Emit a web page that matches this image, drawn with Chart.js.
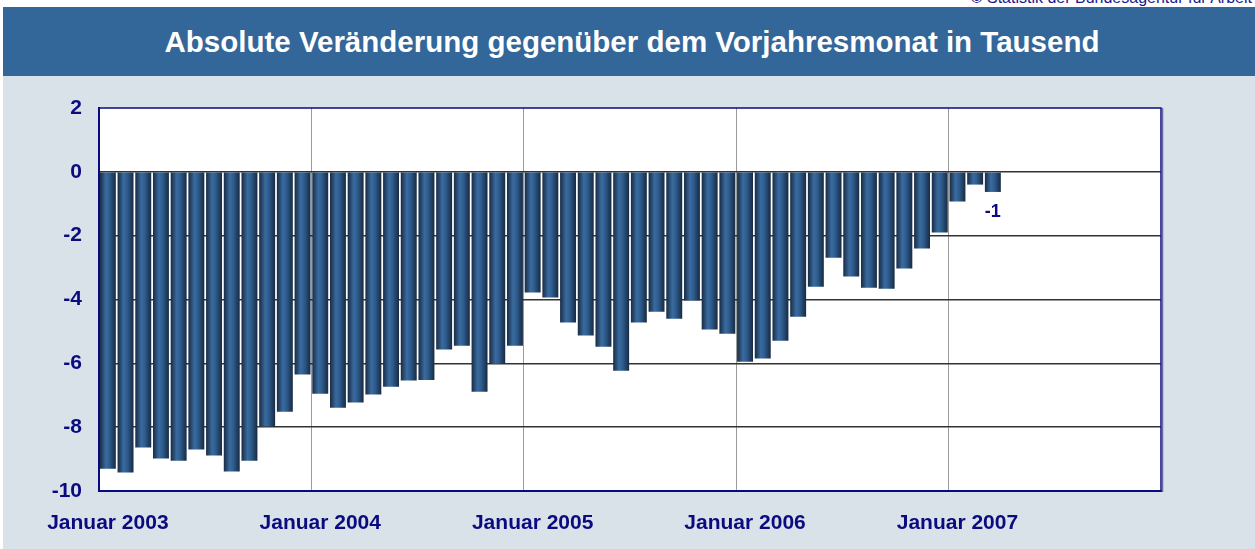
<!DOCTYPE html>
<html>
<head>
<meta charset="utf-8">
<script src="https://cdn.jsdelivr.net/npm/chart.js@4"></script>
<style>
  body { margin: 0; width: 1255px; height: 549px; overflow: hidden; background: #fff; position: relative; font-family: "Liberation Sans", Arial, sans-serif; }
  #source { position: absolute; right: 3px; top: -10px; font-size: 16px; line-height: 16px; color: #1a1a8c; white-space: nowrap; }
  #titleBar { position: absolute; left: 3px; top: 7px; width: 1252px; height: 69px; background: #336699; }
  #titleBar h1 { margin: 0; font-size: 29.5px; line-height: 69px; font-weight: bold; color: #fff; text-align: center; padding-left: 6px; }
  #panel { position: absolute; left: 3px; top: 76px; width: 1252px; height: 473px; background: #d9e1e9; }
  #chartBox { position: absolute; left: 0; top: 76px; width: 1255px; height: 473px; }
</style>
</head>
<body>
<div id="source">© Statistik der Bundesagentur für Arbeit</div>
<div id="titleBar"><h1>Absolute Veränderung gegenüber dem Vorjahresmonat in Tausend</h1></div>
<div id="panel"></div>
<div id="chartBox"><canvas id="veraenderungChart"></canvas></div>
<script>
const years = [2003, 2004, 2005, 2006, 2007];
const monthNames = ["Januar", "Februar", "März", "April", "Mai", "Juni", "Juli",
  "August", "September", "Oktober", "November", "Dezember"];

// 2003 .. März 2007, in Tausend
const values2003 = [-9.30, -9.42, -8.64, -8.98, -9.05, -8.70, -8.89, -9.39, -9.05, -7.98, -7.52, -6.35];
const values2004 = [-6.95, -7.39, -7.23, -6.98, -6.73, -6.54, -6.52, -5.57, -5.45, -6.89, -6.01, -5.45];
const values2005 = [-3.78, -3.94, -4.72, -5.13, -5.48, -6.23, -4.72, -4.38, -4.60, -4.03, -4.94, -5.07];
const values2006 = [-5.95, -5.85, -5.29, -4.54, -3.60, -2.69, -3.28, -3.63, -3.66, -3.03, -2.40, -1.90];
const values2007 = [-0.93, -0.40, -0.63];

const yTicks = [2, 0, -2, -4, -6, -8, -10];

const labels = [];
years.forEach((y) => monthNames.forEach((m) => labels.push(`${m} ${y}`)));
const values = [].concat(values2003, values2004, values2005, values2006, values2007);

const navy = "#0b0b80";
const fontFamily = "'Liberation Sans', Arial, sans-serif";
const barPct = 0.9;

function barGradient(context) {
  const chart = context.chart;
  const xScale = chart.scales.x;
  if (!chart.chartArea || !xScale || context.dataIndex === undefined) return "#2d5a8a";
  const x = xScale.getPixelForValue(context.dataIndex);
  const half = (xScale.width / labels.length) * barPct / 2;
  const g = chart.ctx.createLinearGradient(x - half, 0, x + half, 0);
  g.addColorStop(0, "#182b44");
  g.addColorStop(0.38, "#3a6b9f");
  g.addColorStop(0.6, "#2e5c8e");
  g.addColorStop(1, "#172a42");
  return g;
}

// white plot area + frame around it
const frame = {
  id: "frame",
  beforeDraw(chart) {
    const { ctx, chartArea: a } = chart;
    ctx.save();
    ctx.fillStyle = "#ffffff";
    ctx.fillRect(a.left, a.top, a.right - a.left, a.bottom - a.top);
    ctx.restore();
  },
  afterDraw(chart) {
    const { ctx, chartArea: a } = chart;
    ctx.save();
    ctx.strokeStyle = navy;
    ctx.lineWidth = 1.5;
    ctx.strokeRect(a.left, a.top, a.right - a.left, a.bottom - a.top);
    ctx.strokeStyle = "#6a6aa8";
    ctx.lineWidth = 1.5;
    ctx.beginPath();
    ctx.moveTo(a.right + 1.5, a.top);
    ctx.lineTo(a.right + 1.5, a.bottom + 1);
    ctx.stroke();
    ctx.restore();
  },
};

// value label under the last bar
const lastLabel = {
  id: "lastLabel",
  afterDatasetsDraw(chart) {
    const meta = chart.getDatasetMeta(0);
    const i = values.length - 1;
    const el = meta.data[i];
    if (!el) return;
    const ctx = chart.ctx;
    ctx.save();
    ctx.font = `bold 18px ${fontFamily}`;
    ctx.fillStyle = navy;
    ctx.textAlign = "center";
    ctx.textBaseline = "middle";
    ctx.fillText(String(Math.round(values[i])), el.x, el.y + 20);
    ctx.restore();
  },
};

const ctx = document.getElementById("veraenderungChart").getContext("2d");
const chart = new Chart(ctx, {
  type: "bar",
  data: {
    labels: labels,
    datasets: [
      {
        label: "Veränderung",
        data: values,
        backgroundColor: barGradient,
        borderWidth: 0,
        barPercentage: barPct,
        categoryPercentage: 1.0,
      },
    ],
  },
  options: {
    responsive: true,
    maintainAspectRatio: false,
    animation: false,
    layout: { padding: { top: 32, right: 94, left: 0, bottom: 0 } },
    plugins: {
      legend: { display: false },
      tooltip: { enabled: false },
    },
    scales: {
      x: {
        offset: true,
        grid: {
          offset: true,
          drawTicks: false,
          lineWidth: 1,
          color: (c) => (c.index > 0 && c.index % 12 === 0 ? "#9a9a9a" : "rgba(0,0,0,0)"),
        },
        border: { display: true, color: navy, width: 2 },
        ticks: {
          autoSkip: false,
          maxRotation: 0,
          padding: 20,
          color: navy,
          font: { family: fontFamily, size: 21, weight: "bold" },
          callback: (val, index) => (index % 12 === 0 ? labels[index] : ""),
        },
        afterFit: (scale) => { scale.height = 58; },
      },
      y: {
        min: -10,
        max: 2,
        afterBuildTicks: (scale) => { scale.ticks = yTicks.map((v) => ({ value: v })); },
        grid: {
          drawTicks: false,
          lineWidth: 1.5,
          color: (c) => (c.tick && (c.tick.value === 2 || c.tick.value === -10) ? "rgba(0,0,0,0)" : "#333333"),
        },
        border: { display: true, color: navy, width: 2 },
        ticks: {
          padding: 17,
          color: navy,
          font: { family: fontFamily, size: 21, weight: "bold" },
        },
        afterFit: (scale) => { scale.width = 99; },
      },
    },
  },
  plugins: [frame, lastLabel],
});
</script>
</body>
</html>
